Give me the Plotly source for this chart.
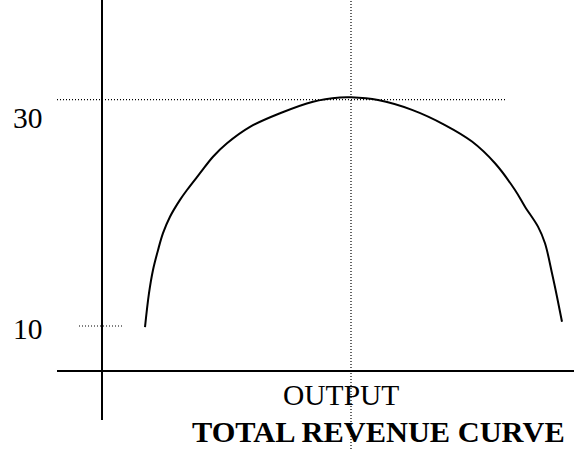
import plotly.graph_objects as go

# Total revenue curve (output units, revenue units)
output = [4.3, 4.7, 5.1, 5.6, 6.1, 6.8, 7.8, 8.5, 9.8, 11.1, 12.5, 14.8, 17.8, 21.1, 23.8, 24.9,
          27.6, 31.0, 34.3, 37.0, 39.3, 41.3, 42.3, 43.6, 44.3, 45.0, 45.5, 46.0]
revenue = [9.9, 12.9, 14.95, 16.7, 18.2, 19.66, 21.15, 22.02, 23.5, 24.96, 26.15, 27.6, 28.8, 29.82, 30.19, 30.21,
           29.97, 29.1, 27.76, 26.3, 24.38, 22.02, 20.54, 18.78, 17.31, 14.66, 12.59, 10.38]

peak_output = 24.9
tick_values = [30, 10]
tick_labels = ["30", "10"]
x_label = "OUTPUT"
title_text = "TOTAL REVENUE CURVE"

X_RANGE = [-10.2, 47.2]
Y_RANGE = [-0.87, 38.81]
AXIS_BASE_Y = 6.02

FONT = "Liberation Serif, Times New Roman, serif"

fig = go.Figure()
fig.add_trace(go.Scatter(x=output, y=revenue, mode="lines",
                         line=dict(color="black", width=2, shape="spline", smoothing=1.0),
                         hoverinfo="skip", showlegend=False))

shapes = []
# vertical axis
shapes.append(dict(type="line", xref="x", yref="y", x0=0, x1=0, y0=1.69, y1=Y_RANGE[1],
                   line=dict(color="black", width=2)))
# horizontal axis
shapes.append(dict(type="line", xref="x", yref="y", x0=-4.5, x1=X_RANGE[1], y0=AXIS_BASE_Y, y1=AXIS_BASE_Y,
                   line=dict(color="black", width=2)))
# dotted guide at 30
shapes.append(dict(type="line", xref="x", yref="y", x0=-4.5, x1=40.5, y0=tick_values[0], y1=tick_values[0],
                   line=dict(color="black", width=1.2, dash="1px,2px")))
# dotted guide at 10
shapes.append(dict(type="line", xref="x", yref="y", x0=-2.3, x1=2.1, y0=tick_values[1], y1=tick_values[1],
                   line=dict(color="black", width=1.2, dash="1px,2px")))
# dotted vertical at peak output
shapes.append(dict(type="line", xref="x", yref="y", x0=peak_output, x1=peak_output, y0=Y_RANGE[0], y1=Y_RANGE[1],
                   line=dict(color="black", width=1.2, dash="1px,2px")))

label_offsets = [-1.6, -0.25]
annotations = []
for v, t, off in zip(tick_values, tick_labels, label_offsets):
    annotations.append(dict(x=-7.45, y=v + off, xref="x", yref="y", text=t, showarrow=False,
                            xanchor="center", yanchor="middle",
                            font=dict(family=FONT, size=29.5, color="black")))
annotations.append(dict(x=23.85, y=AXIS_BASE_Y - 2.1, xref="x", yref="y", text=x_label, showarrow=False,
                        xanchor="center", yanchor="middle",
                        font=dict(family=FONT, size=29.5, color="black")))
annotations.append(dict(x=27.6, y=AXIS_BASE_Y - 5.35, xref="x", yref="y", text="<b>" + title_text + "</b>",
                        showarrow=False, xanchor="center", yanchor="middle",
                        font=dict(family=FONT, size=30.4, color="black")))

fig.update_layout(
    width=574, height=449,
    margin=dict(l=0, r=0, t=0, b=0),
    paper_bgcolor="white", plot_bgcolor="white",
    xaxis=dict(range=X_RANGE, visible=False, fixedrange=True),
    yaxis=dict(range=Y_RANGE, visible=False, fixedrange=True),
    shapes=shapes, annotations=annotations,
    showlegend=False,
)

fig.write_html("out.html", config={"displayModeBar": False},
               post_script="document.body.style.margin='0';document.body.style.overflow='hidden';")
